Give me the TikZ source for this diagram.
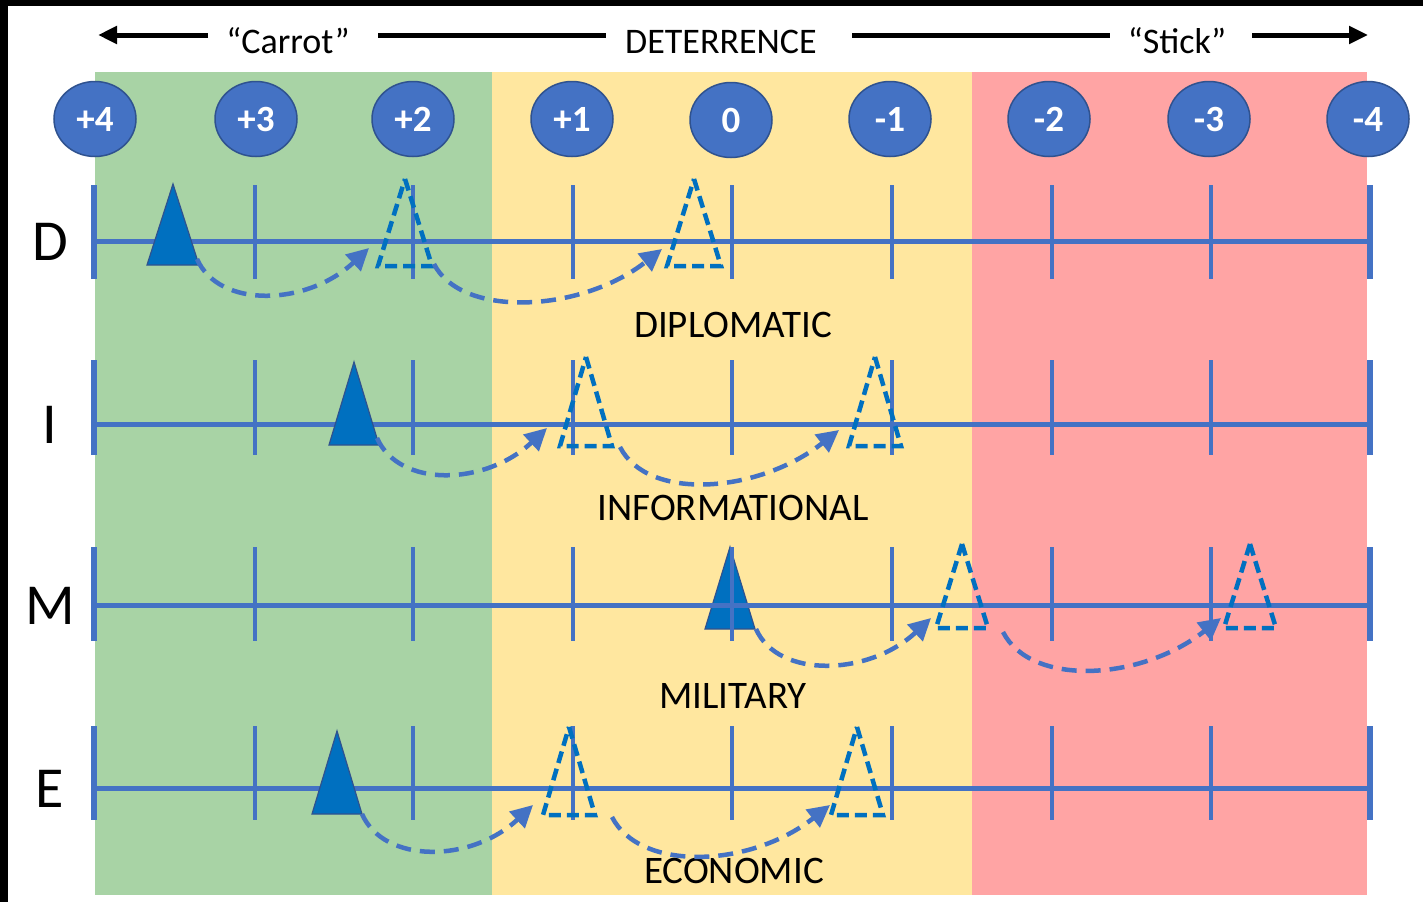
\documentclass[tikz,border=0pt]{standalone}
\usepackage{fontspec}
\setmainfont{Carlito}
\usetikzlibrary{arrows.meta,shapes.geometric}
\definecolor{zgreen}{HTML}{A8D3A5}
\definecolor{zyellow}{HTML}{FFE79F}
\definecolor{zred}{HTML}{FFA4A4}
\definecolor{axblue}{HTML}{4472C4}
\definecolor{triblue}{HTML}{0070C0}
\definecolor{edgeblue}{HTML}{2F528F}
\newcommand\mk[6]{%
  \coordinate (#1-a) at (#2,#3);
  \coordinate (#1-l) at ({#2-#5},#4);
  \coordinate (#1-r) at ({#2+#5},#4);
  \draw[#6] (#1-a) -- (#1-r) -- (#1-l) -- cycle;}
\begin{document}
\begin{tikzpicture}[x=1pt,y=-1pt,
  toptext/.style={font=\fontsize{36}{40}\selectfont, anchor=base, inner sep=0pt},
  rowtext/.style={font=\fontsize{39}{43}\selectfont, anchor=base, inner sep=0pt},
  rowletter/.style={font=\fontsize{58}{62}\selectfont, anchor=base, inner sep=0pt},
  num/.style={ellipse, draw=edgeblue, line width=1.5pt, fill=axblue, minimum width=82pt, minimum height=75pt, inner sep=0pt, text=white, font=\fontsize{37}{40}\selectfont\bfseries},
  bigarrow/.style={line width=5pt, -{Triangle[length=19pt,width=17pt]}},
  bigline/.style={line width=5pt},
  axis/.style={axblue, line width=5pt},
  tickline/.style={axblue, line width=4pt},
  endtick/.style={axblue, line width=6pt},
  solidtri/.style={fill=triblue, draw=edgeblue, line width=1.2pt, line join=miter},
  dashtri/.style={draw=triblue, line width=4.5pt, dash pattern=on 12pt off 6pt, line join=miter},
  move/.style={axblue, line width=4.5pt, dash pattern=on 15pt off 9pt, -{Triangle[length=22pt,width=22pt]}}
]
\useasboundingbox (0,0) rectangle (1423,902);
\fill[white] (0,0) rectangle (1423,902);
\fill[black] (0,0) rectangle (1423,6);
\fill[black] (0,0) rectangle (8,902);
% zones
\fill[zgreen] (95,72) rectangle (492,895);
\fill[zyellow] (492,72) rectangle (972,895);
\fill[zred] (972,72) rectangle (1367,895);
% top header
\node[toptext] (carrot) at (288,53) {“Carrot”};
\node[toptext] (deter) at (721,53) {DETERRENCE};
\node[toptext] (stick) at (1177,53) {“Stick”};
\coordinate (la1) at (208,35); \coordinate (la0) at (98,35);
\coordinate (l1a) at (378,35); \coordinate (l1b) at (606,35);
\coordinate (l2a) at (852,35); \coordinate (l2b) at (1110,35);
\coordinate (ra1) at (1252,35); \coordinate (ra0) at (1368,35);
\draw[bigarrow] (la1) -- (la0);
\draw[bigline] (l1a) -- (l1b);
\draw[bigline] (l2a) -- (l2b);
\draw[bigarrow] (ra1) -- (ra0);
% scale circles
\node[num] (n1) at (95,119) {+4};
\node[num] (n2) at (256,119) {+3};
\node[num] (n3) at (413,119) {+2};
\node[num] (n4) at (572,119) {+1};
\node[num] (n5) at (731,120) {0};
\node[num] (n6) at (890,119) {-1};
\node[num] (n7) at (1049,119) {-2};
\node[num] (n8) at (1209,119) {-3};
\node[num] (n9) at (1368,119) {-4};
% M solid triangle lies under its axis
\mk{M0}{730}{547}{629}{25}{solidtri}
% axes
\foreach \yl/\yt/\yb in {241/185/279, 424/360/455, 605/547/641, 788/726/820}{
  \draw[axis] (95,\yl) -- (1370,\yl);
  \foreach \x in {255,413,573,732,892,1052,1211}
    \draw[tickline] (\x,\yt) -- (\x,\yb);
  \draw[endtick] (94,\yt) -- (94,\yb);
  \draw[endtick] (1370,\yt) -- (1370,\yb);
}
% row letters and labels
\node[rowletter] (lD) at (50,260) {D};
\node[rowletter] (lI) at (50,443) {I};
\node[rowletter] (lM) at (50,624) {M};
\node[rowletter] (lE) at (50,807) {E};
\node[rowtext] (tD) at (733,337) {DIPLOMATIC};
\node[rowtext] (tI) at (733,520) {INFORMATIONAL};
\node[rowtext] (tM) at (733,708) {MILITARY};
\node[rowtext] (tE) at (734,883) {ECONOMIC};
% markers
\mk{D0}{173}{184}{265}{26}{solidtri}
\mk{D1}{405}{179}{266}{27}{dashtri}
\mk{D2}{694}{179}{266}{27}{dashtri}
\mk{I0}{354}{362}{445}{25}{solidtri}
\mk{I1}{586}{357}{446}{26}{dashtri}
\mk{I2}{875}{357}{446}{26}{dashtri}
\mk{M1}{962}{544}{628}{26}{dashtri}
\mk{M2}{1250}{544}{628}{26}{dashtri}
\mk{E0}{337}{731}{814}{25}{solidtri}
\mk{E1}{569}{727}{815}{26}{dashtri}
\mk{E2}{857}{727}{815}{26}{dashtri}
% move arcs
\coordinate (D0s) at (197,259); \coordinate (D1e) at (369,248);
\coordinate (D1s) at (434,264); \coordinate (D2e) at (662,249);
\coordinate (I0s) at (377,438); \coordinate (I1e) at (547,428);
\coordinate (I1s) at (620,447); \coordinate (I2e) at (839,430);
\coordinate (M0s) at (756,629); \coordinate (M1e) at (931,618);
\coordinate (M1s) at (1003,632); \coordinate (M2e) at (1221,618);
\coordinate (E0s) at (362,814); \coordinate (E1e) at (533,805);
\coordinate (E1s) at (612,817); \coordinate (E2e) at (830,805);
\foreach \s/\e in {D0s/D1e, I0s/I1e, M0s/M1e, E0s/E1e}
  \draw[move] (\s) .. controls +(22,50) and +(-62,58) .. (\e);
\foreach \s/\e in {D1s/D2e, I1s/I2e, M1s/M2e, E1s/E2e}
  \draw[move] (\s) .. controls +(28,55) and +(-80,63) .. (\e);
\end{tikzpicture}
\end{document}
